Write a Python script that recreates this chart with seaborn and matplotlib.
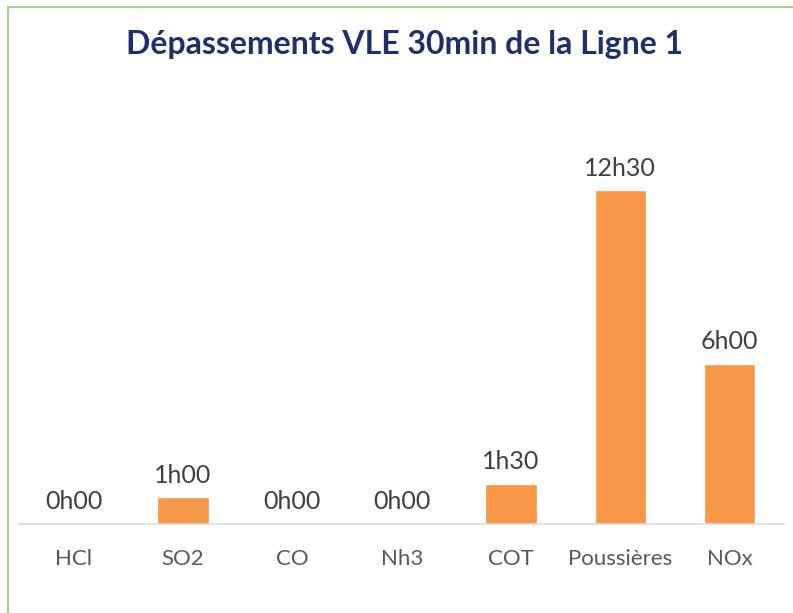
import matplotlib
matplotlib.use("Agg")
import matplotlib.pyplot as plt
import seaborn as sns
import pandas as pd
import numpy as np

# data (hours of exceedance)
categories = ["HCl", "SO2", "CO", "Nh3", "COT", "Poussières", "NOx"]
hours = [0.0, 1.0, 0.0, 0.0, 1.5, 12.5, 6.0]

def fmt_h(h):
    hh = int(h)
    mm = int(round((h - hh) * 60))
    return f"{hh}h{mm:02d}"

df = pd.DataFrame({"cat": categories, "h": hours})

sns.set_style("white")
plt.rcParams["font.family"] = ["Lato", "DejaVu Sans"]

fig = plt.figure(figsize=(7.93, 6.13), dpi=100)
ax = fig.add_axes([0.024, 0.145, 0.965, 0.61])

sns.barplot(data=df, x="cat", y="h", color="#F79646", saturation=1, width=0.47, ax=ax)

for i, h in enumerate(hours):
    ax.text(i, h + 0.4, fmt_h(h), ha="center", va="bottom", fontsize=18, color="#404040")

ax.set_ylim(0, 14)
ax.set_xlim(-0.5, len(categories) - 0.5)
ax.set_yticks([])
ax.set_xlabel("")
ax.set_ylabel("")
for s in ["top", "left", "right"]:
    ax.spines[s].set_visible(False)
ax.spines["bottom"].set_color("#D9D9D9")
ax.spines["bottom"].set_linewidth(1.2)
ax.tick_params(axis="x", which="major", length=0, pad=18, labelsize=16, labelcolor="#595959")
ax.set_xticks(np.arange(-0.5, len(categories)), minor=True)
ax.tick_params(axis="x", which="minor", length=6, color="#D9D9D9", width=1.2)

fig.text(0.51, 0.927, "Dépassements VLE 30min de la Ligne 1", ha="center", va="center",
         fontsize=23, fontweight="bold", color="#1F2F6B")

# light green frame (left and top edges visible)
fig.add_artist(plt.Line2D([0.0101, 0.0101], [0, 0.989], transform=fig.transFigure, color="#A9D18E", lw=1.5))
fig.add_artist(plt.Line2D([0.0101, 1.0], [0.989, 0.989], transform=fig.transFigure, color="#A9D18E", lw=1.5))

fig.savefig("out.png", dpi=100, facecolor="white")
